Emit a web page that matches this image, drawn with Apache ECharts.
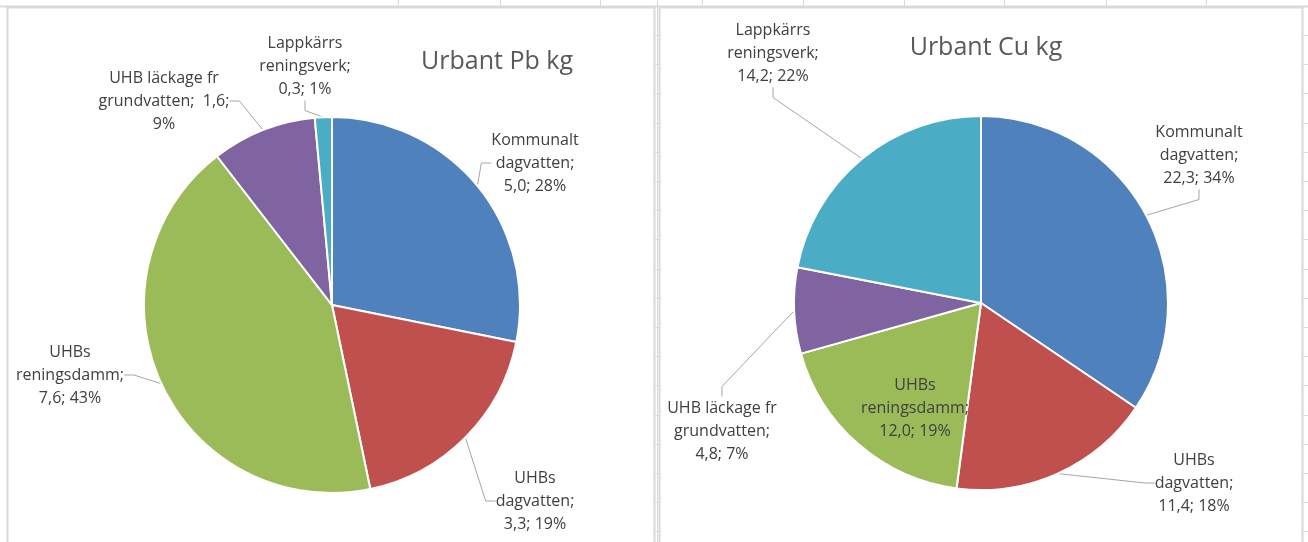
<!DOCTYPE html>
<html>
<head>
<meta charset="utf-8">
<script src="https://cdn.jsdelivr.net/npm/echarts@6/dist/echarts.min.js"></script>
<style>
    html, body { margin: 0; padding: 0; background: #fff; }
    #chart { width: 1308px; height: 542px; }
</style>
</head>
<body>
<div id="chart"></div>
<script>
    var categories = ['Kommunalt dagvatten', 'UHBs dagvatten', 'UHBs reningsdamm', 'UHB läckage fr grundvatten', 'Lappkärrs reningsverk'];
    var pbValues = [5.0, 3.3, 7.6, 1.6, 0.26];
    var cuValues = [22.3, 11.4, 12.0, 4.8, 14.2];
    // label text as wrapped in the original sheet; {v} = value, {p} = percent
    var pbLabels = ['Kommunalt\ndagvatten;\n{v}; {p}', 'UHBs\ndagvatten;\n{v}; {p}', 'UHBs\nreningsdamm;\n{v}; {p}', 'UHB läckage fr\ngrundvatten;  {v};\n{p}', 'Lappkärrs\nreningsverk;\n{v}; {p}'];
    var cuLabels = ['Kommunalt\ndagvatten;\n{v}; {p}', 'UHBs\ndagvatten;\n{v}; {p}', 'UHBs\nreningsdamm;\n{v}; {p}', 'UHB läckage fr\ngrundvatten;\n{v}; {p}', 'Lappkärrs\nreningsverk;\n{v}; {p}'];

    var colors = ['#4f81bd', '#c0504d', '#9bbb59', '#8064a2', '#4bacc6'];
    var pbLabelPos = [[535, 163], [535, 501], [70, 375], [164, 101], [305, 66]];
    var cuLabelPos = [[1199, 155], [1194, 483], [915, 408], [722, 431], [773, 53]];
    var font = '"Open Sans", sans-serif';

    function fmt(tpl) {
        return function (params) {
            var v = params.value.toFixed(1).replace('.', ',');
            return tpl[params.dataIndex].replace('{v}', v).replace('{p}', Math.round(params.percent) + '%');
        };
    }

    function layoutAt(pos) {
        return function (params) {
            var p = pos[params.dataIndex];
            return {x: p[0], y: p[1], align: 'center', verticalAlign: 'middle'};
        };
    }

    function buildData(values, innerIdx) {
        var data = [];
        for (var i = 0; i < values.length; i++) {
            var item = {name: categories[i], value: values[i]};
            if (i === innerIdx) {
                item.labelLine = {show: false};
            }
            data.push(item);
        }
        return data;
    }

    function pieSeries(name, values, center, radius, tpl, pos, innerIdx) {
        return {
            name: name,
            type: 'pie',
            center: center,
            radius: radius,
            startAngle: 90,
            clockwise: true,
            data: buildData(values, innerIdx),
            itemStyle: {borderColor: '#fff', borderWidth: 2},
            label: {
                show: true,
                position: 'outside',
                formatter: fmt(tpl),
                fontFamily: font,
                fontSize: 16,
                lineHeight: 23,
                color: '#404040',
                align: 'center'
            },
            labelLine: {show: true, length: 10, length2: 10, lineStyle: {color: '#a6a6a6', width: 1}},
            labelLayout: layoutAt(pos),
            emphasis: {disabled: true}
        };
    }

    // sheet background: cell grid and the two chart panels
    var graphics = [];
    var colX = [398, 500, 600, 702, 803, 904, 1004, 1106, 1206];
    for (var c = 0; c < colX.length; c++) {
        graphics.push({type: 'line', z: -20, silent: true, shape: {x1: colX[c] + 0.5, y1: 0, x2: colX[c] + 0.5, y2: 542}, style: {stroke: '#dadada', lineWidth: 1}});
    }
    graphics.push({type: 'line', z: -20, silent: true, shape: {x1: 657.5, y1: 0, x2: 657.5, y2: 542}, style: {stroke: '#dadada', lineWidth: 1}});
    for (var r = 0; r < 19; r++) {
        var ry = Math.round(5.8 + 29.2 * r) + 0.5;
        graphics.push({type: 'line', z: -20, silent: true, shape: {x1: r === 0 ? 0 : 650, y1: ry, x2: 1308, y2: ry}, style: {stroke: '#dadada', lineWidth: r === 0 ? 2 : 1}});
    }
    graphics.push({type: 'rect', z: -10, silent: true, shape: {x: 7.5, y: 7.5, width: 647, height: 545}, style: {fill: '#fff', stroke: '#d9d9d9', lineWidth: 2}});
    graphics.push({type: 'rect', z: -10, silent: true, shape: {x: 659.5, y: 7.5, width: 643, height: 545}, style: {fill: '#fff', stroke: '#d9d9d9', lineWidth: 2}});

    var chart = echarts.init(document.getElementById('chart'));
    chart.setOption({
        animation: false,
        color: colors,
        graphic: graphics,
        title: [{
            text: 'Urbant Pb kg',
            left: 492,
            top: 57,
            textAlign: 'center',
            textVerticalAlign: 'middle',
            textStyle: {fontFamily: font, fontSize: 25, fontWeight: 'normal', color: '#595959'}
        }, {
            text: 'Urbant Cu kg',
            left: 981,
            top: 43,
            textAlign: 'center',
            textVerticalAlign: 'middle',
            textStyle: {fontFamily: font, fontSize: 25, fontWeight: 'normal', color: '#595959'}
        }],
        series: [
            pieSeries('Urbant Pb kg', pbValues, [332, 305], 188, pbLabels, pbLabelPos, -1),
            pieSeries('Urbant Cu kg', cuValues, [981, 303], 187, cuLabels, cuLabelPos, 2)
        ]
    });
</script>
</body>
</html>
